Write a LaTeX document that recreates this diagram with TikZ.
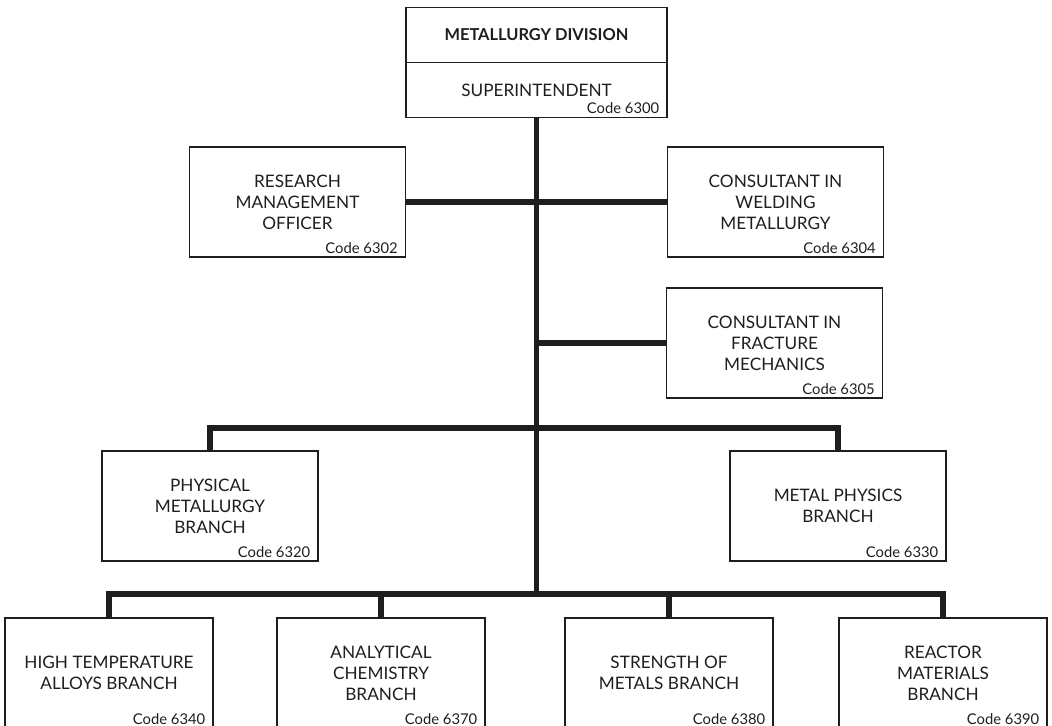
\documentclass[tikz,border=0pt]{standalone}
\usepackage{fontspec}
\setmainfont{Lato}
\usepackage{xcolor}
\definecolor{cInk}{HTML}{1E1E1E}
\usetikzlibrary{positioning}
\tikzset{
  unit-box/.style={draw=cInk,line width=0.65pt,rectangle,align=center,inner sep=0pt,
    text=cInk,font=\fontsize{8.6}{10.5}\selectfont},
  head-box/.style={unit-box,minimum width=130.5pt,minimum height=27.5pt},
  staff-box/.style={unit-box,minimum width=108pt,minimum height=55pt},
  branch-box/.style={unit-box,minimum width=104pt,minimum height=55pt},
  code-tag/.style={anchor=south east,inner xsep=0pt,inner ysep=0pt,xshift=-4pt,yshift=2pt,
    text=cInk,font=\fontsize{7.4}{8}\selectfont},
  link/.style={draw=cInk,line width=2.7pt,line join=miter},
}
\begin{document}
\begin{tikzpicture}[x=0.5pt,y=-0.5pt]
  \clip (0,0) rectangle (1052,726);
  % top of the chart
  \node[head-box,font=\fontsize{8.2}{10}\selectfont\bfseries] (div) at (536.5,35) {METALLURGY DIVISION};
  \node[head-box] (sup) at (536.5,90) {SUPERINTENDENT};
  \node[code-tag] (c6300) at (sup.south east) {Code 6300};
  % staff offices
  \node[staff-box] (rmo)   at (297.5,202) {RESEARCH\\MANAGEMENT\\OFFICER};
  \node[code-tag]  (c6302) at (rmo.south east) {Code 6302};
  \node[staff-box] (weld)  at (775.5,202) {CONSULTANT IN\\WELDING\\METALLURGY};
  \node[code-tag]  (c6304) at (weld.south east) {Code 6304};
  \node[staff-box] (frac)  at (774.5,343) {CONSULTANT IN\\FRACTURE\\MECHANICS};
  \node[code-tag]  (c6305) at (frac.south east) {Code 6305};
  % branches
  \node[staff-box] (pmb)   at (210,506) {PHYSICAL\\METALLURGY\\BRANCH};
  \node[code-tag]  (c6320) at (pmb.south east) {Code 6320};
  \node[staff-box] (mpb)   at (838,506) {METAL PHYSICS\\BRANCH};
  \node[code-tag]  (c6330) at (mpb.south east) {Code 6330};
  \node[branch-box] (hta)  at (109,673) {HIGH TEMPERATURE\\ALLOYS BRANCH};
  \node[code-tag]  (c6340) at (hta.south east) {Code 6340};
  \node[branch-box] (acb)  at (381,673) {ANALYTICAL\\CHEMISTRY\\BRANCH};
  \node[code-tag]  (c6370) at (acb.south east) {Code 6370};
  \node[branch-box] (smb)  at (669,673) {STRENGTH OF\\METALS BRANCH};
  \node[code-tag]  (c6380) at (smb.south east) {Code 6380};
  \node[branch-box] (rmb)  at (943,673) {REACTOR\\MATERIALS\\BRANCH};
  \node[code-tag]  (c6390) at (rmb.south east) {Code 6390};
  \coordinate (mid) at (536.5,428);
  \coordinate (bus) at (536.5,594);
  % connectors
  \draw[link] (sup.south) -- (bus);
  \draw[link] (rmo.east) -- (weld.west);
  \draw[link] (frac.west) -- (frac.west -| sup.south);
  \draw[link] (pmb.north) |- (mid) -| (mpb.north);
  \draw[link] (hta.north) |- (bus) -| (rmb.north);
  \draw[link] (acb.north) -- (acb.north |- bus);
  \draw[link] (smb.north) -- (smb.north |- bus);
\end{tikzpicture}
\end{document}
